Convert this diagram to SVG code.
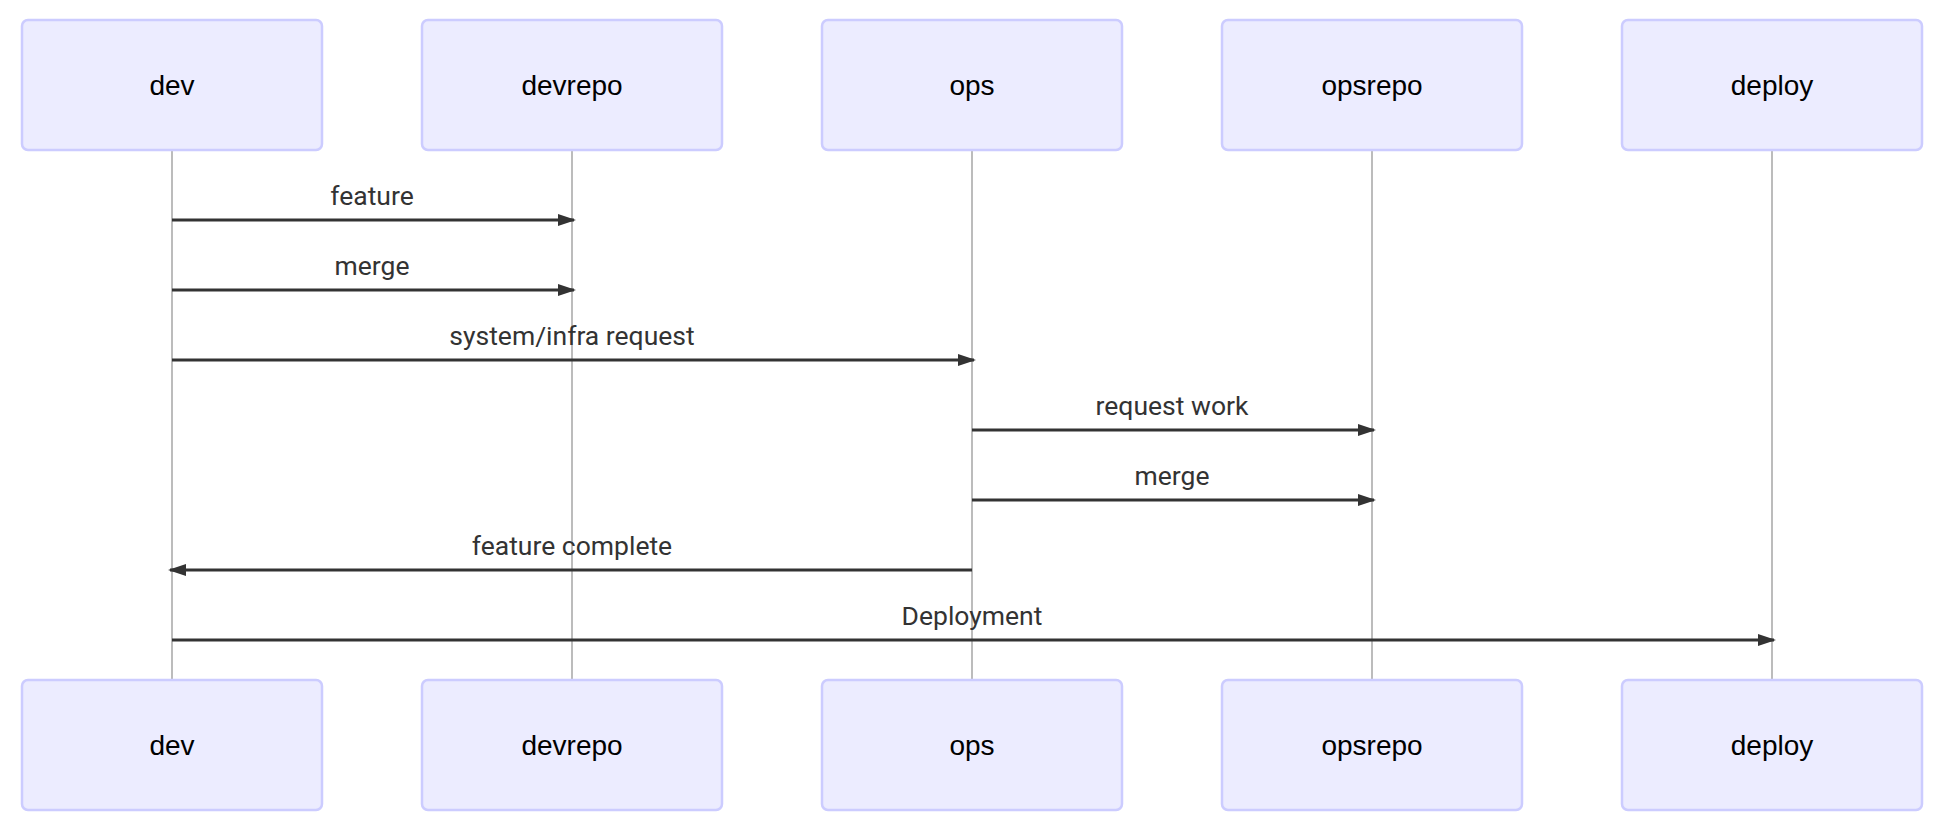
<svg xmlns="http://www.w3.org/2000/svg" width="1944" height="834" viewBox="0 0 1944 834">
<style>
.actor{fill:#ECECFF;stroke:#CCCCFF;stroke-width:2.5}
.atext{font-family:"Liberation Sans",Arial,sans-serif;font-size:28px;fill:#000;text-anchor:middle}
.life{stroke:#bcbcbc;stroke-width:2}
.msg{stroke:#333;stroke-width:3;fill:none}
.mtext{font-family:Roboto,"Liberation Sans",sans-serif;font-size:26.5px;fill:#333;text-anchor:middle}
</style>
<defs>
<marker id="ah" viewBox="0 0 18 12" refX="16" refY="6" markerWidth="18" markerHeight="12" markerUnits="userSpaceOnUse" orient="auto">
<path d="M0,0 L18,6 L0,12 z" fill="#333"/>
</marker>
</defs>
<rect width="1944" height="834" fill="#fff"/>
<g id="lifelines">
<line class="life" x1="172" y1="150" x2="172" y2="680"/>
<line class="life" x1="572" y1="150" x2="572" y2="680"/>
<line class="life" x1="972" y1="150" x2="972" y2="680"/>
<line class="life" x1="1372" y1="150" x2="1372" y2="680"/>
<line class="life" x1="1772" y1="150" x2="1772" y2="680"/>
</g>
<g id="actor-dev">
<rect class="actor" x="22" y="20" width="300" height="130" rx="6"/><text class="atext" x="172" y="95">dev</text>
<rect class="actor" x="22" y="680" width="300" height="130" rx="6"/><text class="atext" x="172" y="755">dev</text>
</g>
<g id="actor-devrepo">
<rect class="actor" x="422" y="20" width="300" height="130" rx="6"/><text class="atext" x="572" y="95">devrepo</text>
<rect class="actor" x="422" y="680" width="300" height="130" rx="6"/><text class="atext" x="572" y="755">devrepo</text>
</g>
<g id="actor-ops">
<rect class="actor" x="822" y="20" width="300" height="130" rx="6"/><text class="atext" x="972" y="95">ops</text>
<rect class="actor" x="822" y="680" width="300" height="130" rx="6"/><text class="atext" x="972" y="755">ops</text>
</g>
<g id="actor-opsrepo">
<rect class="actor" x="1222" y="20" width="300" height="130" rx="6"/><text class="atext" x="1372" y="95">opsrepo</text>
<rect class="actor" x="1222" y="680" width="300" height="130" rx="6"/><text class="atext" x="1372" y="755">opsrepo</text>
</g>
<g id="actor-deploy">
<rect class="actor" x="1622" y="20" width="300" height="130" rx="6"/><text class="atext" x="1772" y="95">deploy</text>
<rect class="actor" x="1622" y="680" width="300" height="130" rx="6"/><text class="atext" x="1772" y="755">deploy</text>
</g>
<g id="connectors">
<line class="msg" x1="172" y1="220" x2="574" y2="220" marker-end="url(#ah)"/>
<text class="mtext" x="372" y="205">feature</text>
<line class="msg" x1="172" y1="290" x2="574" y2="290" marker-end="url(#ah)"/>
<text class="mtext" x="372" y="275">merge</text>
<line class="msg" x1="172" y1="360" x2="974" y2="360" marker-end="url(#ah)"/>
<text class="mtext" x="572" y="345">system/infra request</text>
<line class="msg" x1="972" y1="430" x2="1374" y2="430" marker-end="url(#ah)"/>
<text class="mtext" x="1172" y="415">request work</text>
<line class="msg" x1="972" y1="500" x2="1374" y2="500" marker-end="url(#ah)"/>
<text class="mtext" x="1172" y="485">merge</text>
<line class="msg" x1="972" y1="570" x2="170" y2="570" marker-end="url(#ah)"/>
<text class="mtext" x="572" y="555">feature complete</text>
<line class="msg" x1="172" y1="640" x2="1774" y2="640" marker-end="url(#ah)"/>
<text class="mtext" x="972" y="625">Deployment</text>
</g>
</svg>
